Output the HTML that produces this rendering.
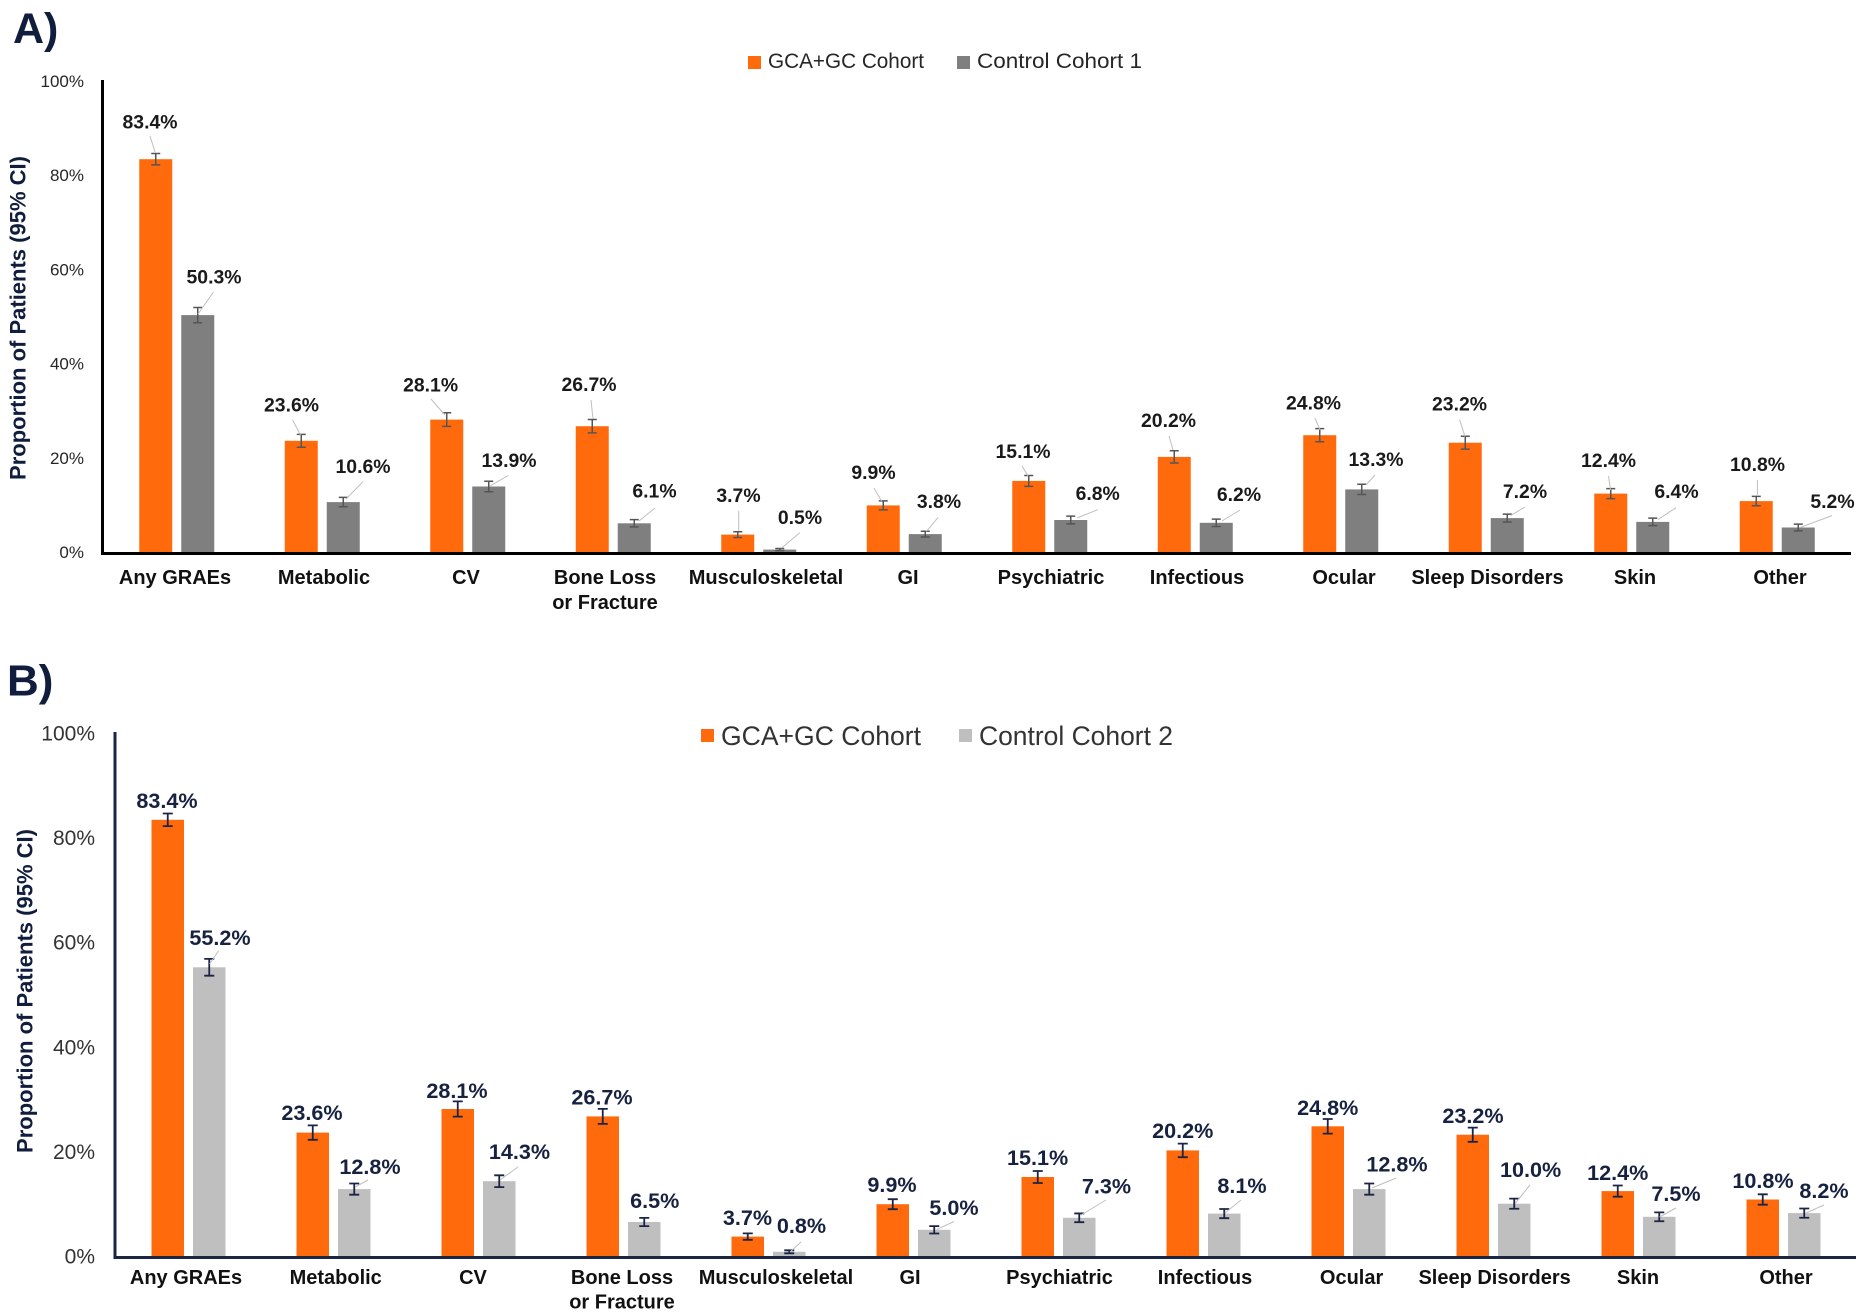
<!DOCTYPE html>
<html><head><meta charset="utf-8"><style>
html,body{margin:0;padding:0;background:#fff;}
svg{display:block;}
text{font-family:"Liberation Sans",Arial,sans-serif;}
</style></head><body>
<svg width="1865" height="1316" viewBox="0 0 1865 1316" xmlns="http://www.w3.org/2000/svg">
<rect width="1865" height="1316" fill="#fff"/>

<!-- ================= PANEL A ================= -->
<text x="13" y="43" font-size="43" font-weight="bold" fill="#111d3c">A)</text>

<!-- legend A -->
<rect x="748" y="56" width="13" height="13" fill="#FF6A0D"/>
<text x="768" y="68" font-size="21" fill="#262626" textLength="156" lengthAdjust="spacingAndGlyphs">GCA+GC Cohort</text>
<rect x="957" y="56" width="13" height="13" fill="#7F7F7F"/>
<text x="977" y="68" font-size="21" fill="#262626" textLength="165" lengthAdjust="spacingAndGlyphs">Control Cohort 1</text>

<!-- y title A -->
<text transform="translate(18,318) rotate(-90)" x="0" y="7.7" text-anchor="middle" font-size="22" font-weight="bold" fill="#111d3c">Proportion of Patients (95% CI)</text>

<!-- ticks A -->
<g font-size="17" fill="#262626" text-anchor="end">
<text x="84" y="87">100%</text>
<text x="84" y="181.2">80%</text>
<text x="84" y="275.4">60%</text>
<text x="84" y="369.6">40%</text>
<text x="84" y="463.8">20%</text>
<text x="84" y="558">0%</text>
</g>

<!-- bars A orange -->
<g fill="#FF6A0D">
<rect x="139.25" y="159.2" width="33" height="392.8"/>
<rect x="284.75" y="440.8" width="33" height="111.2"/>
<rect x="430.25" y="419.6" width="33" height="132.4"/>
<rect x="575.75" y="426.2" width="33" height="125.8"/>
<rect x="721.25" y="534.6" width="33" height="17.4"/>
<rect x="866.75" y="505.4" width="33" height="46.6"/>
<rect x="1012.25" y="480.9" width="33" height="71.1"/>
<rect x="1157.75" y="456.9" width="33" height="95.1"/>
<rect x="1303.25" y="435.2" width="33" height="116.8"/>
<rect x="1448.75" y="442.7" width="33" height="109.3"/>
<rect x="1594.25" y="493.6" width="33" height="58.4"/>
<rect x="1739.75" y="501.1" width="33" height="50.9"/>
</g>
<!-- bars A gray -->
<g fill="#7F7F7F">
<rect x="181.25" y="315.1" width="33" height="236.9"/>
<rect x="326.75" y="502.1" width="33" height="49.9"/>
<rect x="472.25" y="486.5" width="33" height="65.5"/>
<rect x="617.75" y="523.3" width="33" height="28.7"/>
<rect x="763.25" y="549.6" width="33" height="2.4"/>
<rect x="908.75" y="534.1" width="33" height="17.9"/>
<rect x="1054.25" y="520" width="33" height="32"/>
<rect x="1199.75" y="522.8" width="33" height="29.2"/>
<rect x="1345.25" y="489.4" width="33" height="62.6"/>
<rect x="1490.75" y="518.1" width="33" height="33.9"/>
<rect x="1636.25" y="521.9" width="33" height="30.1"/>
<rect x="1781.75" y="527.5" width="33" height="24.5"/>
</g>

<!-- error bars A -->
<g stroke="#555" stroke-width="1.5" fill="none">
<path d="M155.75 153.55V164.85M151.25 153.55h9M151.25 164.85h9"/>
<path d="M301.25 434.35V447.25M296.75 434.35h9M296.75 447.25h9"/>
<path d="M446.75 412.78V426.42M442.25 412.78h9M442.25 426.42h9"/>
<path d="M592.25 419.48V432.92M587.75 419.48h9M587.75 432.92h9"/>
<path d="M737.75 531.73V537.47M733.25 531.73h9M733.25 537.47h9"/>
<path d="M883.25 500.87V509.93M878.75 500.87h9M878.75 509.93h9"/>
<path d="M1028.75 475.47V486.33M1024.25 475.47h9M1024.25 486.33h9"/>
<path d="M1174.25 450.81V462.99M1169.75 450.81h9M1169.75 462.99h9"/>
<path d="M1319.75 428.64V441.76M1315.25 428.64h9M1315.25 441.76h9"/>
<path d="M1465.25 436.29V449.11M1460.75 436.29h9M1460.75 449.11h9"/>
<path d="M1610.75 488.6V498.6M1606.25 488.6h9M1606.25 498.6h9"/>
<path d="M1756.25 496.39V505.81M1751.75 496.39h9M1751.75 505.81h9"/>
<path d="M197.75 307.51V322.69M193.25 307.51h9M193.25 322.69h9"/>
<path d="M343.25 497.43V506.77M338.75 497.43h9M338.75 506.77h9"/>
<path d="M488.75 481.25V491.75M484.25 481.25h9M484.25 491.75h9"/>
<path d="M634.25 519.67V526.93M629.75 519.67h9M629.75 526.93h9"/>
<path d="M779.75 548.53V550.67M775.25 548.53h9M775.25 550.67h9"/>
<path d="M925.25 531.2V537M920.75 531.2h9M920.75 537h9"/>
<path d="M1070.75 516.18V523.82M1066.25 516.18h9M1066.25 523.82h9"/>
<path d="M1216.25 519.14V526.46M1211.75 519.14h9M1211.75 526.46h9"/>
<path d="M1361.75 484.25V494.55M1357.25 484.25h9M1357.25 494.55h9"/>
<path d="M1507.25 514.18V522.02M1502.75 514.18h9M1502.75 522.02h9"/>
<path d="M1652.75 518.18V525.62M1648.25 518.18h9M1648.25 525.62h9"/>
<path d="M1798.25 524.13V530.87M1793.75 524.13h9M1793.75 530.87h9"/>
</g>

<!-- leader lines A -->
<g stroke="#bfbfbf" stroke-width="1" fill="none">
<path d="M150 136L155 152"/>
<path d="M213.5 292L198 314"/>
<path d="M292.6 420L300.5 435"/>
<path d="M363 481.6L346 499"/>
<path d="M431 399L445 415"/>
<path d="M508 475.6L490 486"/>
<path d="M591 400L593 419"/>
<path d="M655 508L639 521"/>
<path d="M738.7 511L738.7 531"/>
<path d="M800 532.6L781.6 548"/>
<path d="M874 488L881.5 501"/>
<path d="M938 517.6L926.4 531.4"/>
<path d="M1022 466L1028 476"/>
<path d="M1097.8 509.7L1077 518"/>
<path d="M1169 436L1173 450"/>
<path d="M1240 510L1222 521"/>
<path d="M1315 418L1320 430"/>
<path d="M1375 475L1366 485"/>
<path d="M1459.6 419.6L1465 436.6"/>
<path d="M1525 507L1510.6 515.6"/>
<path d="M1608.5 476L1610.6 490"/>
<path d="M1676 507.7L1658 519.6"/>
<path d="M1757.4 480L1757.4 496"/>
<path d="M1832 515.6L1800 527.5"/>
</g>

<!-- data labels A -->
<g font-size="19.4" font-weight="bold" fill="#1a1a1a" text-anchor="middle">
<text x="150" y="128.5">83.4%</text>
<text x="214" y="283.5">50.3%</text>
<text x="291.5" y="411.5">23.6%</text>
<text x="363" y="473">10.6%</text>
<text x="430.6" y="391.5">28.1%</text>
<text x="509" y="467">13.9%</text>
<text x="589" y="391">26.7%</text>
<text x="654.5" y="497.5">6.1%</text>
<text x="738.5" y="502">3.7%</text>
<text x="800" y="524">0.5%</text>
<text x="873.5" y="479">9.9%</text>
<text x="939" y="508">3.8%</text>
<text x="1023" y="458">15.1%</text>
<text x="1097.7" y="500">6.8%</text>
<text x="1168.5" y="427">20.2%</text>
<text x="1239" y="501">6.2%</text>
<text x="1313.5" y="409.5">24.8%</text>
<text x="1376" y="466">13.3%</text>
<text x="1459.5" y="410.5">23.2%</text>
<text x="1525" y="498">7.2%</text>
<text x="1608.5" y="467">12.4%</text>
<text x="1676.5" y="498">6.4%</text>
<text x="1757.5" y="471">10.8%</text>
<text x="1832.5" y="508">5.2%</text>
</g>

<!-- axes A -->
<line x1="102.5" y1="80" x2="102.5" y2="554.5" stroke="#000" stroke-width="3"/>
<line x1="101" y1="553.5" x2="1851" y2="553.5" stroke="#000" stroke-width="3"/>

<!-- categories A -->
<g font-size="20" font-weight="bold" fill="#111" text-anchor="middle">
<text x="175" y="584">Any GRAEs</text>
<text x="324" y="584">Metabolic</text>
<text x="466" y="584">CV</text>
<text x="605" y="584">Bone Loss</text>
<text x="605" y="609">or Fracture</text>
<text x="766" y="584">Musculoskeletal</text>
<text x="908" y="584">GI</text>
<text x="1051" y="584">Psychiatric</text>
<text x="1197" y="584">Infectious</text>
<text x="1344" y="584">Ocular</text>
<text x="1487.5" y="584">Sleep Disorders</text>
<text x="1635" y="584">Skin</text>
<text x="1780" y="584">Other</text>
</g>

<!-- ================= PANEL B ================= -->
<text x="7" y="695.5" font-size="44" font-weight="bold" fill="#111d3c">B)</text>

<!-- legend B -->
<rect x="701" y="729" width="13" height="13" fill="#FF6A0D"/>
<text x="721" y="745" font-size="27" fill="#333" textLength="200" lengthAdjust="spacingAndGlyphs">GCA+GC Cohort</text>
<rect x="959" y="729" width="13" height="13" fill="#BFBFBF"/>
<text x="979" y="745" font-size="27" fill="#333" textLength="194" lengthAdjust="spacingAndGlyphs">Control Cohort 2</text>

<!-- y title B -->
<text transform="translate(25,991) rotate(-90)" x="0" y="7.7" text-anchor="middle" font-size="22" font-weight="bold" fill="#111d3c">Proportion of Patients (95% CI)</text>

<!-- ticks B -->
<g font-size="21" fill="#333" text-anchor="end">
<text x="95" y="740.5">100%</text>
<text x="95" y="845.1">80%</text>
<text x="95" y="949.7">60%</text>
<text x="95" y="1054.3">40%</text>
<text x="95" y="1158.9">20%</text>
<text x="95" y="1263.5">0%</text>
</g>

<!-- bars B orange -->
<g fill="#FF6A0D">
<rect x="151.5" y="819.8" width="32.5" height="436.2"/>
<rect x="296.5" y="1132.6" width="32.5" height="123.4"/>
<rect x="441.5" y="1109" width="32.5" height="147"/>
<rect x="586.5" y="1116.4" width="32.5" height="139.6"/>
<rect x="731.5" y="1236.6" width="32.5" height="19.4"/>
<rect x="876.5" y="1204.2" width="32.5" height="51.8"/>
<rect x="1021.5" y="1177" width="32.5" height="79"/>
<rect x="1166.5" y="1150.4" width="32.5" height="105.6"/>
<rect x="1311.5" y="1126.3" width="32.5" height="129.7"/>
<rect x="1456.5" y="1134.7" width="32.5" height="121.3"/>
<rect x="1601.5" y="1191.1" width="32.5" height="64.9"/>
<rect x="1746.5" y="1199.5" width="32.5" height="56.5"/>
</g>
<!-- bars B gray -->
<g fill="#BFBFBF">
<rect x="193" y="967.3" width="32.5" height="288.7"/>
<rect x="338" y="1189.1" width="32.5" height="66.9"/>
<rect x="483" y="1181.2" width="32.5" height="74.8"/>
<rect x="628" y="1222" width="32.5" height="34"/>
<rect x="773" y="1251.8" width="32.5" height="4.2"/>
<rect x="918" y="1229.8" width="32.5" height="26.2"/>
<rect x="1063" y="1217.8" width="32.5" height="38.2"/>
<rect x="1208" y="1213.6" width="32.5" height="42.4"/>
<rect x="1353" y="1189.1" width="32.5" height="66.9"/>
<rect x="1498" y="1203.7" width="32.5" height="52.3"/>
<rect x="1643" y="1216.8" width="32.5" height="39.2"/>
<rect x="1788" y="1213.1" width="32.5" height="42.9"/>
</g>

<!-- error bars B -->
<g stroke="#1b2444" stroke-width="1.8" fill="none">
<path d="M167.75 813.5V826.1M162.75 813.5h10M162.75 826.1h10"/>
<path d="M312.75 1125.4V1139.8M307.75 1125.4h10M307.75 1139.8h10"/>
<path d="M457.75 1101.4V1116.6M452.75 1101.4h10M452.75 1116.6h10"/>
<path d="M602.75 1108.9V1123.9M597.75 1108.9h10M597.75 1123.9h10"/>
<path d="M747.75 1233.4V1239.8M742.75 1233.4h10M742.75 1239.8h10"/>
<path d="M892.75 1199.2V1209.2M887.75 1199.2h10M887.75 1209.2h10"/>
<path d="M1037.75 1171V1183M1032.75 1171h10M1032.75 1183h10"/>
<path d="M1182.75 1143.6V1157.2M1177.75 1143.6h10M1177.75 1157.2h10"/>
<path d="M1327.75 1119V1133.6M1322.75 1119h10M1322.75 1133.6h10"/>
<path d="M1472.75 1127.6V1141.8M1467.75 1127.6h10M1467.75 1141.8h10"/>
<path d="M1617.75 1185.5V1196.7M1612.75 1185.5h10M1612.75 1196.7h10"/>
<path d="M1762.75 1194.3V1204.7M1757.75 1194.3h10M1757.75 1204.7h10"/>
<path d="M209.25 958.9V975.7M204.25 958.9h10M204.25 975.7h10"/>
<path d="M354.25 1183.5V1194.7M349.25 1183.5h10M349.25 1194.7h10"/>
<path d="M499.25 1175.3V1187.1M494.25 1175.3h10M494.25 1187.1h10"/>
<path d="M644.25 1217.85V1226.15M639.25 1217.85h10M639.25 1226.15h10"/>
<path d="M789.25 1250.3V1253.3M784.25 1250.3h10M784.25 1253.3h10"/>
<path d="M934.25 1226.13V1233.47M929.25 1226.13h10M929.25 1233.47h10"/>
<path d="M1079.25 1213.42V1222.18M1074.25 1213.42h10M1074.25 1222.18h10"/>
<path d="M1224.25 1209V1218.2M1219.25 1209h10M1219.25 1218.2h10"/>
<path d="M1369.25 1183.5V1194.7M1364.25 1183.5h10M1364.25 1194.7h10"/>
<path d="M1514.25 1198.64V1208.76M1509.25 1198.64h10M1509.25 1208.76h10"/>
<path d="M1659.25 1212.36V1221.24M1654.25 1212.36h10M1654.25 1221.24h10"/>
<path d="M1804.25 1208.48V1217.72M1799.25 1208.48h10M1799.25 1217.72h10"/>
</g>

<!-- leader lines B -->
<g stroke="#bfbfbf" stroke-width="1" fill="none">
<path d="M218.6 950.7L209.6 964"/>
<path d="M368 1180L355 1187"/>
<path d="M518 1167L500 1180"/>
<path d="M801 1242L790 1252"/>
<path d="M954 1221.5L936.6 1229.6"/>
<path d="M1106 1200L1081 1215"/>
<path d="M1241 1200L1225 1213"/>
<path d="M1396 1178L1372 1188"/>
<path d="M1530 1185L1515.5 1203"/>
<path d="M1676 1208L1659.5 1217"/>
<path d="M1824 1205L1806 1213"/>
</g>

<!-- data labels B -->
<g font-size="21.6" font-weight="bold" fill="#172140" text-anchor="middle">
<text x="167" y="807.8">83.4%</text>
<text x="220" y="944.8">55.2%</text>
<text x="312" y="1119.8">23.6%</text>
<text x="370" y="1173.8">12.8%</text>
<text x="457" y="1097.8">28.1%</text>
<text x="519.5" y="1158.8">14.3%</text>
<text x="602" y="1104.3">26.7%</text>
<text x="654.7" y="1207.8">6.5%</text>
<text x="747.5" y="1224.8">3.7%</text>
<text x="801.5" y="1232.8">0.8%</text>
<text x="892" y="1191.8">9.9%</text>
<text x="954" y="1214.8">5.0%</text>
<text x="1037.6" y="1164.8">15.1%</text>
<text x="1106.5" y="1193.3">7.3%</text>
<text x="1182.7" y="1137.8">20.2%</text>
<text x="1242" y="1192.8">8.1%</text>
<text x="1327.7" y="1114.8">24.8%</text>
<text x="1397" y="1171.4">12.8%</text>
<text x="1473" y="1122.8">23.2%</text>
<text x="1530.6" y="1176.8">10.0%</text>
<text x="1617.7" y="1179.8">12.4%</text>
<text x="1676" y="1200.8">7.5%</text>
<text x="1763" y="1187.8">10.8%</text>
<text x="1824" y="1197.8">8.2%</text>
</g>

<!-- axes B -->
<line x1="115" y1="732" x2="115" y2="1258" stroke="#1c2541" stroke-width="3"/>
<line x1="113.5" y1="1257.5" x2="1856" y2="1257.5" stroke="#1c2541" stroke-width="3"/>

<!-- categories B -->
<g font-size="20" font-weight="bold" fill="#111" text-anchor="middle">
<text x="186" y="1284">Any GRAEs</text>
<text x="335.7" y="1284">Metabolic</text>
<text x="473" y="1284">CV</text>
<text x="622" y="1284">Bone Loss</text>
<text x="622" y="1308.5">or Fracture</text>
<text x="776" y="1284">Musculoskeletal</text>
<text x="910" y="1284">GI</text>
<text x="1059.5" y="1284">Psychiatric</text>
<text x="1205" y="1284">Infectious</text>
<text x="1351.6" y="1284">Ocular</text>
<text x="1494.6" y="1284">Sleep Disorders</text>
<text x="1638" y="1284">Skin</text>
<text x="1786" y="1284">Other</text>
</g>
</svg>
</body></html>
